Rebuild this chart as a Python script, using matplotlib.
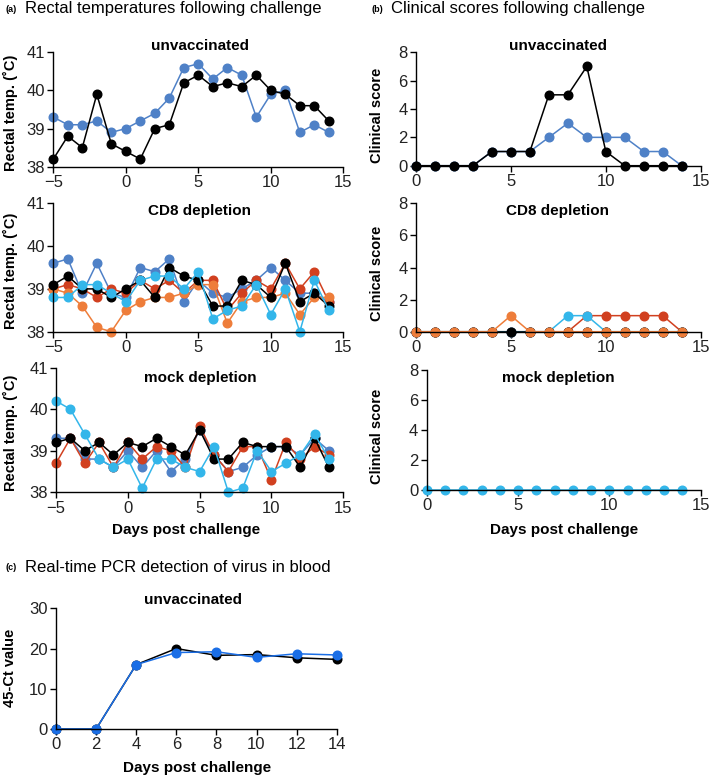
import numpy as np
import matplotlib
matplotlib.use("Agg")
import matplotlib.pyplot as plt

plt.rcParams['font.family'] = ['Liberation Sans', 'DejaVu Sans']

# cores das series
preto = '#000000'
azul_aco = '#4f81c7'
vermelho = '#d1401f'
azul_claro = '#33b6ea'
laranja = '#ee7d3a'
azul_pcr = '#1a6ee6'

# dias
dias_temp = list(range(-5, 15))
dias_score = list(range(0, 15))
dias_pcr = [0, 2, 4, 6, 8, 10, 12, 14]

# (a) temperaturas - nao vacinados
temp_unvac_preto = [38.2, 38.8, 38.5, 39.9, 38.6, 38.4, 38.2, 39.0, 39.1, 40.2,
                    40.4, 40.1, 40.2, 40.1, 40.4, 40.0, 39.9, 39.6, 39.6, 39.2]
temp_unvac_azul = [39.3, 39.1, 39.1, 39.2, 38.9, 39.0, 39.2, 39.4, 39.8, 40.6,
                   40.7, 40.3, 40.6, 40.4, 39.3, 39.9, 40.0, 38.9, 39.1, 38.9]

# (a) temperaturas - deplecao CD8
temp_cd8_aco = [39.6, 39.7, 38.9, 39.6, 38.9, 38.8, 39.5, 39.4, 39.7, 38.7,
                39.2, 38.9, 38.8, 39.0, 39.2, 39.5, 39.2, 38.9, 38.9, 38.7]
temp_cd8_preto = [39.1, 39.3, 39.0, 39.0, 38.8, 39.0, 39.2, 38.8, 39.5, 39.3,
                  39.2, 38.6, 38.6, 39.2, 39.1, 38.8, 39.6, 38.7, 38.9, 38.6]
temp_cd8_vermelho = [39.0, 39.1, 39.0, 38.8, 39.0, 38.9, 39.2, 39.0, 39.2, 38.9,
                     39.2, 39.2, 38.5, 38.9, 39.2, 39.0, 39.6, 39.0, 39.4, 38.7]
temp_cd8_claro = [38.8, 38.8, 39.1, 39.1, 38.9, 38.7, 39.2, 39.3, 39.3, 39.0,
                  39.4, 38.3, 38.5, 38.6, 39.1, 38.4, 39.0, 38.0, 39.2, 38.5]
temp_cd8_laranja = [39.0, 38.9, 38.6, 38.1, 38.0, 38.5, 38.7, 38.8, 38.8, 38.9,
                    39.1, 39.1, 38.2, 38.7, 38.8, 38.8, 38.9, 38.4, 38.8, 38.8]

# (a) temperaturas - deplecao mock
temp_mock_aco = [39.3, 39.3, 38.8, 38.8, 38.6, 39.0, 38.6, 39.0, 38.5, 38.8,
                 39.5, 38.9, 38.5, 38.6, 38.9, 39.1, 39.1, 38.9, 39.3, 39.0]
temp_mock_vermelho = [38.7, 39.3, 38.7, 39.2, 38.6, 39.2, 38.8, 39.1, 39.0, 38.6,
                      39.6, 38.9, 38.5, 39.1, 39.1, 38.3, 39.2, 38.8, 39.1, 38.9]
temp_mock_preto = [39.2, 39.3, 39.0, 39.2, 38.9, 39.2, 39.1, 39.3, 39.1, 38.9,
                   39.5, 38.8, 38.8, 39.2, 39.1, 39.1, 39.1, 38.6, 39.3, 38.6]
temp_mock_claro = [40.2, 40.0, 39.4, 38.8, 38.6, 38.8, 38.1, 38.8, 38.8, 38.6,
                   38.5, 39.1, 38.0, 38.1, 39.0, 38.5, 38.7, 38.9, 39.4, 38.8]

# (b) escores clinicos
score_unvac_azul = [0, 0, 0, 0, 1, 1, 1, 2, 3, 2, 2, 2, 1, 1, 0]
score_unvac_preto = [0, 0, 0, 0, 1, 1, 1, 5, 5, 7, 1, 0, 0, 0, 0]
score_cd8_aco = [0] * 15
score_cd8_preto = [0] * 15
score_cd8_vermelho = [0, 0, 0, 0, 0, 0, 0, 0, 0, 1, 1, 1, 1, 1, 0]
score_cd8_claro = [0, 0, 0, 0, 0, 0, 0, 0, 1, 1, 0, 0, 0, 0, 0]
score_cd8_laranja = [0, 0, 0, 0, 0, 1, 0, 0, 0, 0, 0, 0, 0, 0, 0]
score_mock_claro = [0] * 15

# (c) PCR
pcr_preto = [0, 0, 16, 20, 18.3, 18.5, 17.7, 17.3]
pcr_azul = [0, 0, 16, 19, 19.2, 17.8, 18.7, 18.4]

W, H = 709, 777
fig = plt.figure(figsize=(W / 100, H / 100), dpi=100)


def eixo(esq, dir, topo, base):
    ax = fig.add_axes([esq / W, 1 - base / H, (dir - esq) / W, (base - topo) / H])
    ax.spines['top'].set_visible(False)
    ax.spines['right'].set_visible(False)
    ax.spines['left'].set_linewidth(1.0)
    ax.spines['bottom'].set_linewidth(1.0)
    ax.tick_params(labelsize=12, length=4, width=1, direction='out', pad=2,
                   labelcolor='#222222')
    ax.patch.set_alpha(0)
    return ax


def serie(ax, x, y, cor):
    ax.plot(x, y, '-o', color=cor, lw=1.1, ms=6.2, clip_on=False)


def texto(x, y, s, **kw):
    fig.text(x / W, 1 - y / H, s, **kw)


# cabecalhos
texto(5, 9, '(a)', fontsize=6.5, fontweight='bold', va='center')
texto(25, 9, 'Rectal temperatures following challenge', fontsize=12, va='center')
texto(371, 9, '(b)', fontsize=6.5, fontweight='bold', va='center')
texto(391, 9, 'Clinical scores following challenge', fontsize=12, va='center')
texto(5, 568, '(c)', fontsize=6.5, fontweight='bold', va='center')
texto(25, 568, 'Real-time PCR detection of virus in blood', fontsize=12, va='center')

# (a) temperaturas
linhas_a = [
    ((53.3, 343.3, 52.3, 166.7), 'unvaccinated', 46,
     [(temp_unvac_azul, azul_aco), (temp_unvac_preto, preto)]),
    ((53.3, 343.3, 203.3, 331.7), 'CD8 depletion', 211,
     [(temp_cd8_aco, azul_aco), (temp_cd8_vermelho, vermelho), (temp_cd8_laranja, laranja),
      (temp_cd8_preto, preto), (temp_cd8_claro, azul_claro)]),
    ((56, 343.3, 367.7, 492.3), 'mock depletion', 378,
     [(temp_mock_aco, azul_aco), (temp_mock_vermelho, vermelho), (temp_mock_preto, preto),
      (temp_mock_claro, azul_claro)]),
]
for caixa, titulo, ty, series in linhas_a:
    ax = eixo(*caixa)
    for y, cor in series:
        serie(ax, dias_temp, y, cor)
    ax.set_xlim(-5, 15)
    ax.set_ylim(38, 41)
    ax.set_xticks([-5, 0, 5, 10, 15])
    ax.set_yticks([38, 39, 40, 41])
    texto(200, ty, titulo, fontsize=11, fontweight='bold', ha='center', va='center')
    texto(10, (caixa[2] + caixa[3]) / 2 + 3, 'Rectal temp. (\u02daC)', fontsize=10.5,
          fontweight='bold', rotation=90, ha='center', va='center')
texto(186, 530, 'Days post challenge', fontsize=11, fontweight='bold', ha='center', va='center')

# (b) escores clinicos
linhas_b = [
    ((416, 700.7, 52.3, 165.7), 'unvaccinated', 46,
     [(score_unvac_azul, azul_aco), (score_unvac_preto, preto)]),
    ((416, 700.7, 203.3, 331.7), 'CD8 depletion', 211,
     [(score_cd8_aco, azul_aco), (score_cd8_vermelho, vermelho), (score_cd8_claro, azul_claro),
      (score_cd8_preto, preto), (score_cd8_laranja, laranja)]),
    ((426.7, 700.7, 370, 490), 'mock depletion', 378,
     [(score_mock_claro, azul_claro)]),
]
for caixa, titulo, ty, series in linhas_b:
    ax = eixo(*caixa)
    for y, cor in series:
        serie(ax, dias_score, y, cor)
    ax.set_xlim(0, 15)
    ax.set_ylim(0, 8)
    ax.set_xticks([0, 5, 10, 15])
    ax.set_yticks([0, 2, 4, 6, 8])
    texto(558, ty, titulo, fontsize=11, fontweight='bold', ha='center', va='center')
    texto(377, (caixa[2] + caixa[3]) / 2 + 6, 'Clinical score', fontsize=10.5,
          fontweight='bold', rotation=90, ha='center', va='center')
texto(564, 530, 'Days post challenge', fontsize=11, fontweight='bold', ha='center', va='center')

# (c) PCR
ax = eixo(56, 336.7, 608.3, 729)
serie(ax, dias_pcr, pcr_preto, preto)
serie(ax, dias_pcr, pcr_azul, azul_pcr)
ax.set_xlim(0, 14)
ax.set_ylim(0, 30)
ax.set_xticks(dias_pcr)
ax.set_yticks([0, 10, 20, 30])
texto(193, 600, 'unvaccinated', fontsize=11, fontweight='bold', ha='center', va='center')
texto(10, 668, '45-Ct value', fontsize=10.5, fontweight='bold', rotation=90, ha='center', va='center')
texto(197, 768, 'Days post challenge', fontsize=11, fontweight='bold', ha='center', va='center')

fig.savefig('out.png', dpi=100)
